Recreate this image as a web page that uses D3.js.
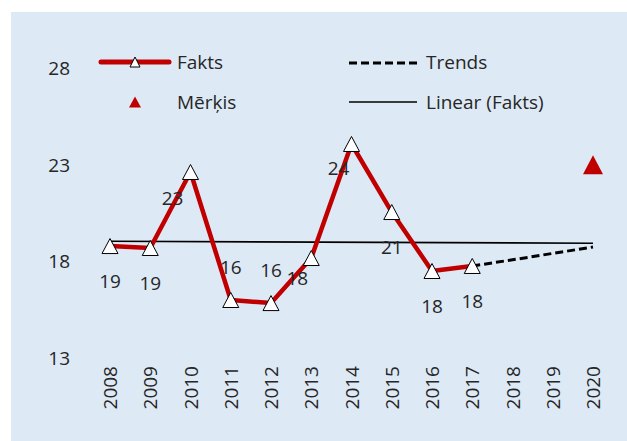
<!DOCTYPE html>
<html><head><meta charset="utf-8">
<script src="https://cdn.jsdelivr.net/npm/d3@7"></script>
<style>
html,body{margin:0;padding:0;background:#fff;}
svg text{font-family:"Open Sans","Noto Sans",sans-serif;fill:#262626;}
</style></head>
<body><svg id="c" width="627" height="441"></svg>
<script>
// ---- data ----
const years = ["2008","2009","2010","2011","2012","2013","2014","2015","2016","2017","2018","2019","2020"];
const faktsYears = ["2008","2009","2010","2011","2012","2013","2014","2015","2016","2017"];
const faktsValues = [18.79, 18.69, 22.62, 16.0, 15.84, 18.17, 24.07, 20.55, 17.5, 17.76];
const trendYears = ["2017","2018","2019","2020"];
const trendValues = [17.76, 18.08, 18.41, 18.74];
const targetYears = ["2020"];
const targetValues = [23.0];
const yTicks = [13, 18, 23, 28];
// label placement per Fakts point (layout only)
const labelPlacement = ["below","below","leftBelow","above","above","leftBelow2","leftBelow3","below","below","below"];

const svg = d3.select("#c");
svg.append("rect").attr("x",11).attr("y",12).attr("width",616).attr("height",429).attr("fill","#DDE9F5");

const x = d3.scalePoint().domain(years).range([110, 593]);
const y = d3.scaleLinear().domain([13, 28]).range([358, 68]);

// y axis
const yAxis = d3.axisLeft(y).tickValues(yTicks).tickSize(0).tickPadding(0).tickFormat(d3.format("d"));
const gy = svg.append("g").attr("transform","translate(70,0)").call(yAxis);
gy.select(".domain").remove();
gy.selectAll("text").attr("font-size",19).attr("dy","0.35em").attr("fill","#262626")
  .style("font-family","'Open Sans'");

// x axis
const xAxis = d3.axisBottom(x).tickSize(0).tickPadding(0);
const gx = svg.append("g").attr("transform","translate(0,366)").call(xAxis);
gx.select(".domain").remove();
gx.selectAll("text").attr("font-size",19).attr("fill","#262626")
  .style("font-family","'Open Sans'")
  .attr("text-anchor","end").attr("transform","rotate(-90)")
  .attr("x",0).attr("y",0).attr("dx",0).attr("dy","0.35em");

// linear regression of Fakts
const n = faktsValues.length;
const xi = faktsYears.map((d,i)=>i);
const mx = d3.mean(xi), my = d3.mean(faktsValues);
const slope = d3.sum(xi.map((v,i)=>(v-mx)*(faktsValues[i]-my))) / d3.sum(xi.map(v=>(v-mx)*(v-mx)));
const icpt = my - slope*mx;
const linVal = i => icpt + slope*i;
svg.append("line")
  .attr("x1", x(years[0])).attr("y1", y(linVal(0)))
  .attr("x2", x(years[years.length-1])).attr("y2", y(linVal(years.length-1)))
  .attr("stroke","#000").attr("stroke-width",1.6);

// trend dashed
const line = d3.line().x(d=>x(d[0])).y(d=>y(d[1]));
svg.append("path").datum(trendYears.map((d,i)=>[d,trendValues[i]]))
  .attr("d", line).attr("fill","none").attr("stroke","#000")
  .attr("stroke-width",3).attr("stroke-dasharray","8,4");

// fakts line
const fakts = faktsYears.map((d,i)=>[d,faktsValues[i]]);
svg.append("path").datum(fakts).attr("d", line).attr("fill","none")
  .attr("stroke","#C00000").attr("stroke-width",4.5).attr("stroke-linejoin","round");

// triangle marker path
function tri(w,h){ return `M0,${-h/2}L${w/2},${h/2}L${-w/2},${h/2}Z`; }
svg.selectAll(".mk").data(fakts).enter().append("path")
  .attr("transform", d=>`translate(${x(d[0])},${y(d[1])})`)
  .attr("d", tri(16,15)).attr("fill","#fff").attr("stroke","#000").attr("stroke-width",1);

// target
svg.selectAll(".tg").data(targetYears.map((d,i)=>[d,targetValues[i]])).enter().append("path")
  .attr("transform", d=>`translate(${x(d[0])},${y(d[1])})`)
  .attr("d", tri(20,19)).attr("fill","#C00000");

// data labels
const off = {below:[0,35], above:[0,-33], leftBelow:[-18,26], leftBelow2:[-14,20], leftBelow3:[-13,24]};
svg.selectAll(".lb").data(fakts).enter().append("text")
  .attr("x",(d,i)=>x(d[0])+off[labelPlacement[i]][0])
  .attr("y",(d,i)=>y(d[1])+off[labelPlacement[i]][1])
  .attr("dy","0.35em").attr("text-anchor","middle").attr("font-size",19)
  .text(d=>Math.round(d[1]));

// legend
const lg = svg.append("g");
lg.append("line").attr("x1",101).attr("x2",169).attr("y1",62).attr("y2",62)
  .attr("stroke","#C00000").attr("stroke-width",5).attr("stroke-linecap","round");
lg.append("path").attr("transform","translate(135,62)").attr("d",tri(10,10))
  .attr("fill","#fff").attr("stroke","#000").attr("stroke-width",1);
lg.append("text").attr("x",177).attr("y",62).attr("dy","0.35em").attr("font-size",19).text("Fakts");
lg.append("path").attr("transform","translate(135,102)").attr("d",tri(12,11)).attr("fill","#C00000");
lg.append("text").attr("x",177).attr("y",102).attr("dy","0.35em").attr("font-size",19).text("Mērķis");
lg.append("line").attr("x1",349).attr("x2",418).attr("y1",63).attr("y2",63)
  .attr("stroke","#000").attr("stroke-width",3).attr("stroke-dasharray","8,4");
lg.append("text").attr("x",426).attr("y",62).attr("dy","0.35em").attr("font-size",19).text("Trends");
lg.append("line").attr("x1",349).attr("x2",417).attr("y1",102).attr("y2",102)
  .attr("stroke","#000").attr("stroke-width",1.6);
lg.append("text").attr("x",426).attr("y",102).attr("dy","0.35em").attr("font-size",19).text("Linear (Fakts)");
</script></body></html>
